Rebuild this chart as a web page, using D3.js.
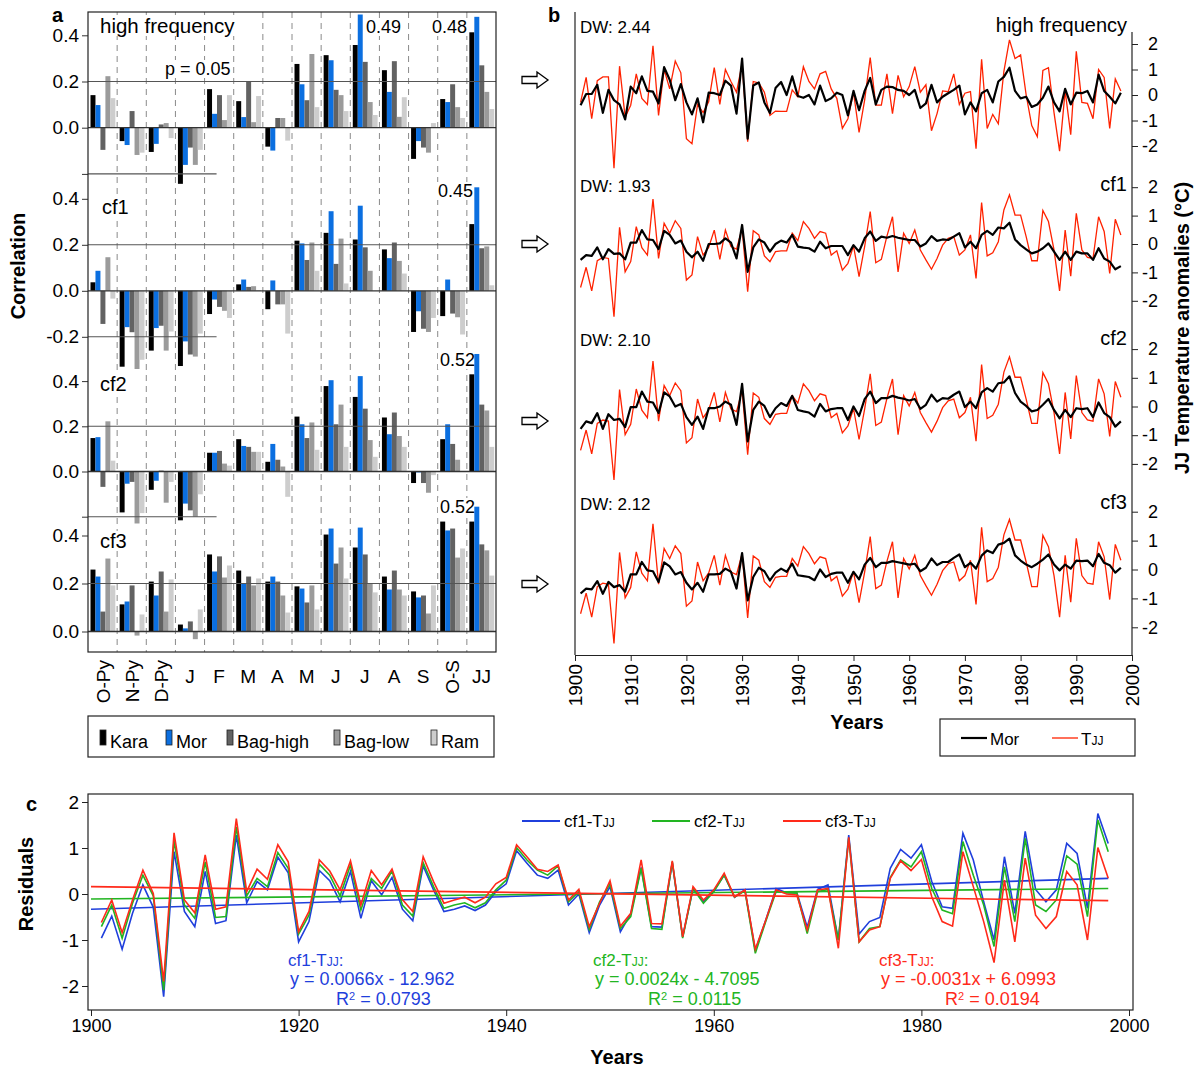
<!DOCTYPE html>
<html>
<head>
<meta charset="utf-8">
<script src="https://cdn.jsdelivr.net/npm/d3@7"></script>
<style>
  body { margin: 0; background: #fff; }
  svg text { font-family: Arial, "Liberation Sans", sans-serif; }
</style>
</head>
<body>
<div id="chart"></div>
<script>
// ---------------- data: panel a (correlations) ----------------
const months = ["O-Py", "N-Py", "D-Py", "J", "F", "M", "A", "M", "J", "J", "A", "S", "O-S", "JJ"];
const seriesNames = ["Kara", "Mor", "Bag-high", "Bag-low", "Ram"];
const seriesColors = ["#000000", "#0b6fe0", "#626262", "#9b9b9b", "#cdcdcd"];

// rows: Kara, Mor, Bag-high, Bag-low, Ram
const corrHF = [
  [0.141, -0.058, -0.105, -0.243, 0.167, 0.115, -0.082, 0.276, 0.314, 0.358, 0.249, -0.135, 0.124, 0.413],
  [0.098, -0.075, -0.07, -0.161, 0.06, 0.046, -0.099, 0.188, 0.292, 0.49, 0.155, -0.058, 0.111, 0.48],
  [-0.096, 0.072, 0.014, -0.086, 0.141, 0.199, 0.042, 0.119, 0.164, 0.285, 0.288, -0.086, 0.188, 0.27],
  [0.223, -0.118, 0.02, -0.161, 0.033, 0.024, 0.042, 0.319, 0.141, 0.111, 0.047, -0.108, 0.089, 0.155],
  [0.128, -0.108, -0.045, -0.096, 0.141, 0.137, -0.056, 0.089, 0.072, 0.055, 0.132, 0.02, 0.042, 0.081]
];
const corrCf1 = [
  [0.037, -0.33, -0.26, -0.327, -0.101, 0.028, -0.08, 0.218, 0.252, 0.223, 0.18, -0.179, -0.11, 0.29],
  [0.087, -0.158, -0.162, -0.22, -0.038, 0.049, 0.045, 0.206, 0.346, 0.37, 0.142, -0.089, 0.049, 0.45],
  [-0.144, -0.18, -0.152, -0.277, -0.07, 0.017, -0.059, 0.134, 0.117, 0.189, 0.21, -0.165, -0.099, 0.185],
  [0.146, -0.34, -0.26, -0.286, -0.087, 0.02, -0.059, 0.21, 0.227, 0.087, 0.13, -0.179, -0.115, 0.193],
  [-0.034, -0.30, -0.177, -0.186, -0.118, 0.003, -0.186, 0.087, 0.032, 0.0, 0.075, -0.118, -0.19, 0.024]
];
const corrCf2 = [
  [0.148, -0.181, -0.081, -0.216, 0.083, 0.143, 0.043, 0.243, 0.378, 0.33, 0.239, -0.051, 0.143, 0.43],
  [0.152, -0.054, -0.041, -0.142, 0.083, 0.113, 0.122, 0.209, 0.404, 0.422, 0.165, -0.004, 0.209, 0.52],
  [-0.068, -0.046, 0.004, -0.172, 0.091, 0.109, 0.052, 0.148, 0.209, 0.278, 0.261, -0.051, 0.122, 0.296],
  [0.222, -0.23, -0.138, -0.2, 0.035, 0.087, 0.022, 0.217, 0.296, 0.139, 0.157, -0.094, 0.052, 0.27],
  [0.048, -0.184, -0.046, -0.101, 0.026, 0.087, -0.112, 0.096, 0.109, 0.065, 0.109, -0.016, 0, 0.109]
];
const corrCf3 = [
  [0.258, 0.113, 0.208, 0.029, 0.321, 0.254, 0.208, 0.188, 0.404, 0.35, 0.229, 0.167, 0.458, 0.458],
  [0.229, 0.125, 0.15, 0.013, 0.25, 0.2, 0.229, 0.179, 0.429, 0.433, 0.175, 0.142, 0.421, 0.52],
  [0.083, 0.192, 0.25, 0.042, 0.313, 0.229, 0.208, 0.121, 0.283, 0.321, 0.254, 0.15, 0.429, 0.363],
  [0.304, -0.017, 0.083, -0.032, 0.225, 0.192, 0.15, 0.192, 0.35, 0.2, 0.175, 0.075, 0.308, 0.338],
  [0.192, 0.071, 0.217, 0.092, 0.275, 0.221, 0.079, 0.092, 0.221, 0.163, 0.15, 0.192, 0.346, 0.233]
];

// ---------------- data: panel b (1901-1998) ----------------
const years = d3.range(1901, 1999);
const decades = [1900, 1910, 1920, 1930, 1940, 1950, 1960, 1970, 1980, 1990, 2000];

const morHF = [-0.4, 0.04, 0.04, 0.4, -0.7, 0.2, -0.2, -0.37, -0.96, 0.33,
  0.07, 0.73, 0.16, 0.13, -0.33, 1.09, 0.6, -0.2, 0.43, -0.29,
  -0.76, -0.13, -1.07, 0.09, 0.07, 0, 0.56, 0.37, -0.73, 1.43,
  -1.71, 0.37, 0.49, -0.29, -0.71, 0.27, 0.51, 0, 0.73, -0.04,
  -0.11, 0, -0.37, 0.37, -0.24, -0.13, 0.09, 0, -0.8, 0.16,
  -0.6, 0.16, 0.67, -0.37, 0.2, 0.33, 0.31, 0.2, 0.16, 0,
  0.2, -0.51, -0.33, 0.4, -0.29, -0.07, 0.07, 0.2, 0.37, -0.76,
  -0.29, -0.64, 0.07, 0.2, -0.29, 0.53, 0.71, 1.07, 0.16, -0.13,
  -0.07, -0.47, -0.37, -0.11, 0.33, -0.29, -0.64, 0.24, -0.37, 0.09,
  0.07, 0.16, -0.29, 0.8, 0.16, -0.07, -0.33, 0.09];
const tJJHF = [-0.29, 0.69, -0.93, 0.56, 0.71, 0.71, -2.87, 1.13, -0.87, -0.4,
  0.83, -0.13, -0.37, 1.93, -0.8, 1.0, 0.24, 1.33, 0.87, -1.71,
  -1.91, -0.37, -0.69, -0.27, 1.07, -0.37, 1.0, 0.53, 0.11, 1.23,
  -1.83, 0.53, 0.47, 0.11, -0.8, -0.63, -0.64, -0.64, 0.2, -0.07,
  1.11, 0.53, 0.24, 0.83, 0.93, 0.24, -0.13, -1.31, -0.93, 0.11,
  -1.47, -0.2, 1.47, -0.4, -0.4, 0.83, -0.73, 0.77, -0.07, 0.33,
  1.11, 0.11, 0.4, -1.4, -0.73, 0.16, 0.13, 0.83, -0.37, 0.07,
  0.13, -2.11, 1.4, -1.31, -0.76, -1.13, 0.93, 2.16, 1.43, 1.57,
  0, -1.2, -1.63, 0.96, 1.07, -0.69, -2.2, 0.16, -1.56, 1.71,
  -0.29, -0.33, -0.93, 1.0, 0.69, -1.31, 0.63, 0.16];
const tJJ = [-1.53, -0.82, -1.65, -0.59, -0.47, -0.51, -2.56, 0.59, -0.98, -0.62,
  0.61, -0.13, -0.39, 1.58, -0.51, 0.73, 0.38, 0.82, 0.55, -1.27,
  -1.09, 0.26, -0.39, -0.12, 0.49, -0.54, 0.49, -0.09, -0.18, 0.55,
  -1.68, 0.47, 0.32, -0.42, -0.62, -0.27, -0.24, -0.24, 0.38, 0.12,
  0.79, 0.55, 0.2, 0.44, 0.38, -0.39, -0.24, -0.92, -0.68, -0.07,
  -1.15, -0.09, 1.14, -0.66, -0.54, 0.28, 0.96, -0.98, 0.38, 0.02,
  0.49, -0.21, -0.56, -0.89, -0.51, -0.04, 0.2, 0.26, -0.39, -0.21,
  0.32, -1.21, 1.46, -0.42, -0.31, 0.08, 1.2, 1.73, 1.02, 1.02,
  0.26, -0.59, -0.59, 1.18, 0.79, -0.21, -1.65, 0.49, -1.13, 1.08,
  -0.21, -0.47, -0.51, 0.96, 0.44, -1.04, 0.87, 0.32];
const morCf1 = [-0.56, -0.39, -0.42, -0.12, -0.54, -0.18, -0.35, -0.33, -0.54, 0.05,
  0.05, 0.49, 0.16, 0.14, -0.18, 0.46, 0.32, 0.02, 0.12, -0.27,
  -0.47, -0.27, -0.59, 0, 0, 0.02, 0.2, 0.05, -0.51, 0.67,
  -0.98, -0.12, 0.16, 0.05, -0.27, 0, 0.12, 0.05, 0.32, -0.09,
  -0.13, -0.15, -0.27, 0.08, -0.15, -0.07, -0.07, -0.07, -0.39, -0.04,
  -0.27, 0.2, 0.44, 0.11, 0.26, 0.22, 0.28, 0.22, 0.18, 0.14,
  0.14, -0.09, 0.02, 0.28, 0.11, 0.16, 0.14, 0.26, 0.38, -0.12,
  0.08, -0.15, 0.32, 0.46, 0.32, 0.58, 0.55, 0.75, 0.16, -0.04,
  -0.19, -0.33, -0.27, -0.15, 0.02, -0.27, -0.56, -0.27, -0.56, -0.27,
  -0.33, -0.33, -0.56, -0.15, -0.51, -0.62, -0.89, -0.78];
const morCf2 = [-0.78, -0.52, -0.58, -0.23, -0.78, -0.27, -0.47, -0.43, -0.72, -0.02,
  -0.02, 0.52, 0.17, 0.14, -0.23, 0.49, 0.35, 0, 0.09, -0.37,
  -0.64, -0.35, -0.78, -0.06, -0.06, 0, 0.17, 0.06, -0.64, 0.79,
  -1.22, -0.12, 0.17, 0.02, -0.37, -0.06, 0.12, 0.02, 0.37, -0.12,
  -0.17, -0.21, -0.35, 0.09, -0.17, -0.09, -0.06, -0.06, -0.47, 0,
  -0.33, 0.26, 0.52, 0.12, 0.29, 0.29, 0.37, 0.31, 0.27, 0.21,
  0.26, -0.08, 0.06, 0.41, 0.17, 0.29, 0.27, 0.41, 0.52, -0.02,
  0.17, -0.06, 0.49, 0.64, 0.52, 0.81, 0.84, 1.05, 0.47, 0.17,
  0.02, -0.17, -0.12, 0.06, 0.26, -0.12, -0.41, -0.12, -0.37, -0.06,
  -0.09, -0.06, -0.37, 0.14, -0.23, -0.37, -0.7, -0.52];
const morCf3 = [-0.83, -0.66, -0.69, -0.4, -0.84, -0.43, -0.61, -0.54, -0.77, -0.17,
  -0.17, 0.26, -0.03, -0.06, -0.43, 0.25, 0.11, -0.17, -0.09, -0.46,
  -0.69, -0.46, -0.77, -0.17, -0.17, -0.15, 0.03, -0.08, -0.66, 0.57,
  -1.07, -0.26, 0.06, -0.06, -0.38, -0.11, 0.03, -0.08, 0.2, -0.2,
  -0.23, -0.26, -0.37, 0, -0.26, -0.15, -0.11, -0.11, -0.46, -0.08,
  -0.34, 0.17, 0.4, 0.08, 0.23, 0.23, 0.29, 0.25, 0.21, 0.17,
  0.2, -0.06, 0.06, 0.38, 0.15, 0.26, 0.26, 0.4, 0.52, 0.08,
  0.23, 0.03, 0.48, 0.66, 0.57, 0.86, 0.92, 1.07, 0.49, 0.31,
  0.17, 0.08, 0.2, 0.34, 0.52, 0.17, -0.03, 0.17, 0.03, 0.31,
  0.29, 0.31, 0.11, 0.54, 0.23, 0.15, -0.11, 0.06];

// ---------------- data: panel c (residuals 1901-1998) ----------------
const resCf1 = [-0.96, -0.48, -1.2, -0.42, 0.2, -0.29, -2.23, 0.92, -0.38, -0.71,
  0.49, -0.64, -0.58, 1.28, -0.19, 0.27, 0.09, 0.8, 0.46, -1.04,
  -0.6, 0.51, 0.29, -0.17, 0.49, -0.53, 0.29, -0.02, 0.36, -0.33,
  -0.58, 0.61, 0.09, -0.38, -0.33, -0.26, -0.36, -0.24, 0.05, 0.22,
  0.94, 0.67, 0.41, 0.34, 0.52, -0.24, 0, -0.84, -0.24, 0.16,
  -0.82, -0.43, 0.58, -0.71, -0.72, 0.68, -0.93, 0.12, -0.17, 0.07,
  0.41, -0.07, 0.09, -1.23, -0.57, 0.12, 0.03, 0.03, -0.72, 0.1,
  0.2, -1.0, 1.28, -0.87, -0.6, -0.51, 0.56, 0.97, 0.78, 1.07,
  0.27, -0.28, -0.31, 1.32, 0.74, -0.17, -1.0, 0.81, -0.42, 1.36,
  0.1, -0.17, 0.09, 1.1, 0.88, -0.31, 1.75, 1.1];
const resCf2 = [-0.71, -0.24, -0.96, -0.2, 0.41, -0.04, -2.09, 1.17, -0.24, -0.53,
  0.7, -0.51, -0.49, 1.46, -0.04, 0.34, 0.16, 0.9, 0.56, -0.87,
  -0.46, 0.65, 0.41, -0.04, 0.63, -0.35, 0.34, 0.12, 0.5, -0.24,
  -0.48, 0.68, 0.16, -0.31, -0.24, -0.19, -0.3, -0.19, 0.09, 0.3,
  1.01, 0.74, 0.52, 0.41, 0.61, -0.17, 0.05, -0.77, -0.17, 0.22,
  -0.75, -0.49, 0.56, -0.75, -0.77, 0.7, -0.96, 0.12, -0.2, 0.05,
  0.41, -0.07, 0.07, -1.29, -0.6, 0.05, 0.03, 0.02, -0.86, 0.05,
  0.1, -1.0, 1.21, -1.04, -0.75, -0.71, 0.36, 0.74, 0.59, 0.92,
  0.12, -0.35, -0.43, 1.14, 0.41, -0.24, -1.14, 0.59, -0.6, 1.21,
  -0.24, -0.38, -0.13, 0.83, 0.65, -0.49, 1.61, 0.92];
const resCf3 = [-0.62, -0.13, -0.84, -0.13, 0.52, 0.01, -1.9, 1.33, -0.13, -0.41,
  0.85, -0.33, -0.28, 1.64, 0.05, 0.54, 0.32, 1.07, 0.7, -0.82,
  -0.38, 0.74, 0.5, 0.09, 0.72, -0.24, 0.51, 0.2, 0.54, -0.12,
  -0.38, 0.81, 0.27, -0.2, -0.13, -0.07, -0.19, -0.07, 0.22, 0.36,
  1.07, 0.81, 0.54, 0.49, 0.63, -0.13, 0.1, -0.71, -0.2, 0.29,
  -0.7, -0.42, 0.74, -0.64, -0.65, 0.72, -0.93, 0.16, -0.13, 0.09,
  0.45, -0.06, 0.09, -1.2, -0.57, 0.09, 0, -0.02, -0.78, 0.09,
  0.12, -1.18, 1.23, -1.04, -0.78, -0.71, 0.34, 0.72, 0.51, 0.75,
  -0.06, -0.6, -0.7, 0.92, 0.16, -0.6, -1.49, 0.3, -1.04, 0.78,
  -0.46, -0.75, -0.49, 0.49, 0.2, -1.0, 1.01, 0.34];
const trendYears = [1900, 1998];
const trendCf1 = [-0.33, 0.34];
const trendCf2 = [-0.11, 0.12];
const trendCf3 = [0.16, -0.145];

// ---------------- svg ----------------
const svg = d3.select("#chart").append("svg")
  .attr("width", 1195)
  .attr("height", 1067);

function bgLabel(txtLayer, bgLayer, x, y, str, size, anchor) {
  const t = txtLayer.append("text")
    .attr("x", x).attr("y", y)
    .attr("font-size", size)
    .attr("text-anchor", anchor || "start")
    .text(str);
  const b = t.node().getBBox();
  bgLayer.append("rect")
    .attr("x", b.x - 2).attr("y", b.y + 1)
    .attr("width", b.width + 4).attr("height", b.height - 2)
    .attr("fill", "#fff");
  return t;
}

// ================= panel a =================
const aLeft = 88, aRight = 496, aTop = 12, aBottom = 652;
const xGroup = d3.scaleBand().domain(d3.range(months.length)).range([aLeft, aRight]);
const xSeries = d3.scaleBand().domain(seriesNames).range([2.5, xGroup.bandwidth() - 1.8]);

const gDash = svg.append("g");
const gBg = svg.append("g");
const gBars = svg.append("g");
const gRef = svg.append("g");
const gTxt = svg.append("g");

// dashed month separators
gDash.selectAll("line")
  .data(d3.range(1, months.length))
  .join("line")
  .attr("x1", i => xGroup(i)).attr("x2", i => xGroup(i))
  .attr("y1", aTop).attr("y2", aBottom)
  .attr("stroke", "#8a8a8a")
  .attr("stroke-width", 1)
  .attr("stroke-dasharray", "6,5");

const subPanels = [
  { data: corrHF, zero: 127.7, unit: 231, ticks: [-0.2, 0, 0.2, 0.4], shown: [0, 0.2, 0.4], negLine: true },
  { data: corrCf1, zero: 290.8, unit: 230, ticks: [-0.2, 0, 0.2, 0.4], shown: [-0.2, 0, 0.2, 0.4], negLine: true },
  { data: corrCf2, zero: 471.5, unit: 226, ticks: [-0.2, 0, 0.2, 0.4], shown: [0, 0.2, 0.4], negLine: true },
  { data: corrCf3, zero: 631.5, unit: 240, ticks: [0, 0.2, 0.4], shown: [0, 0.2, 0.4], negLine: false }
];

subPanels.forEach(p => {
  const y = d3.scaleLinear().domain([0, 0.4]).range([p.zero, p.zero - 0.4 * p.unit]);

  // bars
  gBars.append("g")
    .selectAll("g")
    .data(p.data)
    .join("g")
    .attr("fill", (d, s) => seriesColors[s])
    .each(function(vals, s) {
      d3.select(this).selectAll("rect")
        .data(vals)
        .join("rect")
        .attr("x", (v, i) => xGroup(i) + xSeries(seriesNames[s]))
        .attr("width", xSeries.bandwidth())
        .attr("y", v => y(Math.max(0, v)))
        .attr("height", v => Math.abs(y(v) - y(0)));
    });

  // zero line and p = 0.05 lines
  gRef.append("line")
    .attr("x1", aLeft).attr("x2", aRight)
    .attr("y1", y(0)).attr("y2", y(0))
    .attr("stroke", "#333").attr("stroke-width", 1.3);
  gRef.append("line")
    .attr("x1", aLeft).attr("x2", aRight)
    .attr("y1", y(0.2)).attr("y2", y(0.2))
    .attr("stroke", "#555").attr("stroke-width", 1.1);
  if (p.negLine) {
    gRef.append("line")
      .attr("x1", aLeft).attr("x2", xGroup(4) + 12)
      .attr("y1", y(-0.2)).attr("y2", y(-0.2))
      .attr("stroke", "#555").attr("stroke-width", 1.1);
  }

  // left axis
  const ax = gRef.append("g")
    .attr("transform", `translate(${aLeft},0)`)
    .call(d3.axisLeft(y).tickValues(p.ticks).tickSize(6)
      .tickFormat(d => p.shown.includes(d) ? d.toFixed(1) : ""));
  ax.select(".domain").remove();
  ax.attr("font-size", 19).attr("font-family", null);
  ax.selectAll("line").attr("stroke", "#333");
  ax.selectAll("text").attr("x", -9).attr("fill", "#000");
});

// frame
gRef.append("rect")
  .attr("x", aLeft).attr("y", aTop)
  .attr("width", aRight - aLeft).attr("height", aBottom - aTop)
  .attr("fill", "none").attr("stroke", "#222").attr("stroke-width", 1.2);

// annotations inside panel a
bgLabel(gTxt, gBg, 100, 33, "high frequency", 20.5);
bgLabel(gTxt, gBg, 165, 75, "p = 0.05", 18);
bgLabel(gTxt, gBg, 366, 33, "0.49", 18);
bgLabel(gTxt, gBg, 432, 33, "0.48", 18);
bgLabel(gTxt, gBg, 102, 214, "cf1", 20);
bgLabel(gTxt, gBg, 438, 197, "0.45", 18);
bgLabel(gTxt, gBg, 100, 391, "cf2", 20);
bgLabel(gTxt, gBg, 440, 366, "0.52", 18);
bgLabel(gTxt, gBg, 100, 548, "cf3", 20);
bgLabel(gTxt, gBg, 440, 513, "0.52", 18);

// month labels
months.forEach((m, i) => {
  const cx = xGroup(i) + xGroup.bandwidth() / 2;
  if (m.includes("-")) {
    svg.append("text")
      .attr("transform", `translate(${cx + 7},${aBottom + 8}) rotate(-90)`)
      .attr("text-anchor", "end")
      .attr("font-size", 19)
      .text(m);
  } else {
    svg.append("text")
      .attr("x", cx).attr("y", aBottom + 31)
      .attr("text-anchor", "middle")
      .attr("font-size", 19)
      .text(m);
  }
});

// legend a
const legA = svg.append("g");
legA.append("rect")
  .attr("x", 88).attr("y", 716).attr("width", 406).attr("height", 41)
  .attr("fill", "none").attr("stroke", "#222").attr("stroke-width", 1.2);
const legAx = [100, 166, 227, 334, 431];
seriesNames.forEach((n, s) => {
  legA.append("rect")
    .attr("x", legAx[s]).attr("y", 730).attr("width", 6).attr("height", 15)
    .attr("fill", seriesColors[s]).attr("stroke", "#222").attr("stroke-width", 0.8);
  legA.append("text")
    .attr("x", legAx[s] + 10).attr("y", 748)
    .attr("font-size", 18)
    .text(n);
});

svg.append("text")
  .attr("transform", "translate(25,266) rotate(-90)")
  .attr("text-anchor", "middle")
  .attr("font-size", 20).attr("font-weight", "bold")
  .text("Correlation");

svg.append("text").attr("x", 52).attr("y", 22)
  .attr("font-size", 20).attr("font-weight", "bold").text("a");

// ================= panel b =================
const bLeft = 575, bRight = 1132, bBottom = 655;
const xYear = d3.scaleLinear().domain([1900, 2000]).range([bLeft, bRight]);

const bRows = [
  { mor: morHF, t: tJJHF, zero: 95, unit: 25.5, dw: "DW: 2.44", name: "high frequency", nameSize: 20, textY: 33 },
  { mor: morCf1, t: tJJ, zero: 244, unit: 28.4, dw: "DW: 1.93", name: "cf1", nameSize: 20, textY: 192 },
  { mor: morCf2, t: tJJ, zero: 406.5, unit: 28.7, dw: "DW: 2.10", name: "cf2", nameSize: 20, textY: 346 },
  { mor: morCf3, t: tJJ, zero: 569.5, unit: 28.9, dw: "DW: 2.12", name: "cf3", nameSize: 20, textY: 510 }
];

bRows.forEach(r => {
  const y = d3.scaleLinear().domain([-2, 2]).range([r.zero + 2 * r.unit, r.zero - 2 * r.unit]);
  const line = d3.line().x((d, i) => xYear(years[i])).y(d => y(d));

  svg.append("path")
    .datum(r.t)
    .attr("d", line)
    .attr("fill", "none").attr("stroke", "#ff2200").attr("stroke-width", 1.3);
  svg.append("path")
    .datum(r.mor)
    .attr("d", line)
    .attr("fill", "none").attr("stroke", "#000").attr("stroke-width", 2.2)
    .attr("stroke-linejoin", "round");

  const ax = svg.append("g")
    .attr("transform", `translate(${bRight},0)`)
    .call(d3.axisRight(y).tickValues([-2, -1, 0, 1, 2]).tickSize(6).tickFormat(d => String(d)));
  ax.select(".domain").remove();
  ax.attr("font-size", 18).attr("font-family", null);
  ax.selectAll("line").attr("stroke", "#222");
  ax.selectAll("text").attr("x", 26).attr("text-anchor", "end").attr("fill", "#000");

  svg.append("text").attr("x", bLeft + 5).attr("y", r.textY)
    .attr("font-size", 17).text(r.dw);
  svg.append("text").attr("x", bRight - 5).attr("y", r.textY - 1)
    .attr("text-anchor", "end")
    .attr("font-size", r.nameSize).text(r.name);
});

svg.append("line")
  .attr("x1", bLeft).attr("x2", bLeft).attr("y1", 12).attr("y2", bBottom)
  .attr("stroke", "#222").attr("stroke-width", 1.2);
svg.append("line")
  .attr("x1", bRight).attr("x2", bRight).attr("y1", 32).attr("y2", bBottom)
  .attr("stroke", "#222").attr("stroke-width", 1.2);

const axB = svg.append("g")
  .attr("transform", `translate(0,${bBottom})`)
  .call(d3.axisBottom(xYear).tickValues(decades).tickSize(6).tickSizeOuter(0).tickFormat(d3.format("d")));
axB.attr("font-size", 19).attr("font-family", null);
axB.select(".domain").attr("stroke", "#222").attr("stroke-width", 1.2);
axB.selectAll("line").attr("stroke", "#222");
axB.selectAll("text")
  .attr("fill", "#000")
  .attr("y", 0).attr("x", -9).attr("dy", "0.35em")
  .attr("transform", "rotate(-90)")
  .attr("text-anchor", "end");

svg.append("text").attr("x", 857).attr("y", 729)
  .attr("text-anchor", "middle")
  .attr("font-size", 20).attr("font-weight", "bold").text("Years");

svg.append("text")
  .attr("transform", "translate(1189,328) rotate(-90)")
  .attr("text-anchor", "middle")
  .attr("font-size", 20).attr("font-weight", "bold")
  .text("JJ Temperature anomalies (°C)");

// legend b
svg.append("rect")
  .attr("x", 940).attr("y", 719).attr("width", 195).attr("height", 37)
  .attr("fill", "none").attr("stroke", "#222").attr("stroke-width", 1.2);
svg.append("line").attr("x1", 961).attr("x2", 987).attr("y1", 738).attr("y2", 738)
  .attr("stroke", "#000").attr("stroke-width", 2.2);
svg.append("text").attr("x", 990).attr("y", 745).attr("font-size", 17).text("Mor");
svg.append("line").attr("x1", 1052).attr("x2", 1078).attr("y1", 738).attr("y2", 738)
  .attr("stroke", "#ff2200").attr("stroke-width", 1.3);
const tl = svg.append("text").attr("x", 1081).attr("y", 745).attr("font-size", 17);
tl.append("tspan").text("T");
tl.append("tspan").attr("font-size", 12).text("JJ");

svg.append("text").attr("x", 548).attr("y", 22)
  .attr("font-size", 20).attr("font-weight", "bold").text("b");

// arrows between a and b
[80, 244, 421, 584].forEach(cy => {
  svg.append("path")
    .attr("d", `M522,${cy - 3.5} L537,${cy - 3.5} L537,${cy - 8} L548,${cy} L537,${cy + 8} L537,${cy + 3.5} L522,${cy + 3.5} Z`)
    .attr("fill", "#fff").attr("stroke", "#000").attr("stroke-width", 1.3)
    .attr("stroke-linejoin", "miter");
});

// ================= panel c =================
const cLeft = 88, cRight = 1133, cTop = 794, cBottom = 1010;
const xC = d3.scaleLinear().domain([1900, 2000]).range([91, 1129]);
const yC = d3.scaleLinear().domain([-2, 2]).range([986, 802]);
const resYears = d3.range(1901, 1999);
const colC = { cf1: "#1f3fdc", cf2: "#22b522", cf3: "#ff2a1a" };

const lineC = d3.line().x((d, i) => xC(resYears[i])).y(d => yC(d));
const lineT = d3.line().x((d, i) => xC(trendYears[i])).y(d => yC(d));

[[resCf1, trendCf1, colC.cf1], [resCf2, trendCf2, colC.cf2], [resCf3, trendCf3, colC.cf3]].forEach(([res, tr, c]) => {
  svg.append("path").datum(res).attr("d", lineC)
    .attr("fill", "none").attr("stroke", c).attr("stroke-width", 1.6);
  svg.append("path").datum(tr).attr("d", lineT)
    .attr("fill", "none").attr("stroke", c).attr("stroke-width", 1.6);
});

svg.append("rect")
  .attr("x", cLeft).attr("y", cTop).attr("width", cRight - cLeft).attr("height", cBottom - cTop)
  .attr("fill", "none").attr("stroke", "#222").attr("stroke-width", 1.2);

const axCy = svg.append("g").attr("transform", `translate(${cLeft},0)`)
  .call(d3.axisLeft(yC).tickValues([-2, -1, 0, 1, 2]).tickSize(6).tickFormat(d => String(d)));
axCy.select(".domain").remove();
axCy.attr("font-size", 19).attr("font-family", null);
axCy.selectAll("line").attr("stroke", "#222");
axCy.selectAll("text").attr("fill", "#000");

const axCx = svg.append("g").attr("transform", `translate(0,${cBottom})`)
  .call(d3.axisBottom(xC).tickValues([1900, 1920, 1940, 1960, 1980, 2000]).tickSize(6).tickFormat(d3.format("d")));
axCx.select(".domain").remove();
axCx.attr("font-size", 18).attr("font-family", null);
axCx.selectAll("line").attr("stroke", "#222");
axCx.selectAll("text").attr("fill", "#000");

svg.append("text")
  .attr("transform", "translate(33,884) rotate(-90)")
  .attr("text-anchor", "middle")
  .attr("font-size", 20).attr("font-weight", "bold").text("Residuals");
svg.append("text").attr("x", 617).attr("y", 1064)
  .attr("text-anchor", "middle")
  .attr("font-size", 20).attr("font-weight", "bold").text("Years");
svg.append("text").attr("x", 26).attr("y", 811)
  .attr("font-size", 20).attr("font-weight", "bold").text("c");

// legend c
[["cf1", 522], ["cf2", 652], ["cf3", 783]].forEach(([k, lx]) => {
  svg.append("line").attr("x1", lx).attr("x2", lx + 38).attr("y1", 821).attr("y2", 821)
    .attr("stroke", colC[k]).attr("stroke-width", 2.2);
  const t = svg.append("text").attr("x", lx + 42).attr("y", 827).attr("font-size", 17);
  t.append("tspan").text(k + "-T");
  t.append("tspan").attr("font-size", 12).text("JJ");
});

// regression annotations
function regText(x, y, title, eq, r2, r2x, c) {
  const t1 = svg.append("text").attr("x", x).attr("y", y).attr("font-size", 17).attr("fill", c);
  t1.append("tspan").text(title + "-T");
  t1.append("tspan").attr("font-size", 12).text("JJ");
  t1.append("tspan").text(":");
  svg.append("text").attr("x", x + 2).attr("y", y + 19).attr("font-size", 18).attr("fill", c).text(eq);
  const t3 = svg.append("text").attr("x", r2x).attr("y", y + 39).attr("font-size", 18).attr("fill", c);
  t3.append("tspan").text("R");
  t3.append("tspan").attr("font-size", 11).attr("dy", -5).text("2");
  t3.append("tspan").attr("dy", 5).text(" = " + r2);
}
regText(288, 966, "cf1", "y = 0.0066x - 12.962", "0.0793", 336, colC.cf1);
regText(593, 966, "cf2", "y = 0.0024x - 4.7095", "0.0115", 648, colC.cf2);
regText(879, 966, "cf3", "y = -0.0031x + 6.0993", "0.0194", 945, colC.cf3);
</script>
</body>
</html>
